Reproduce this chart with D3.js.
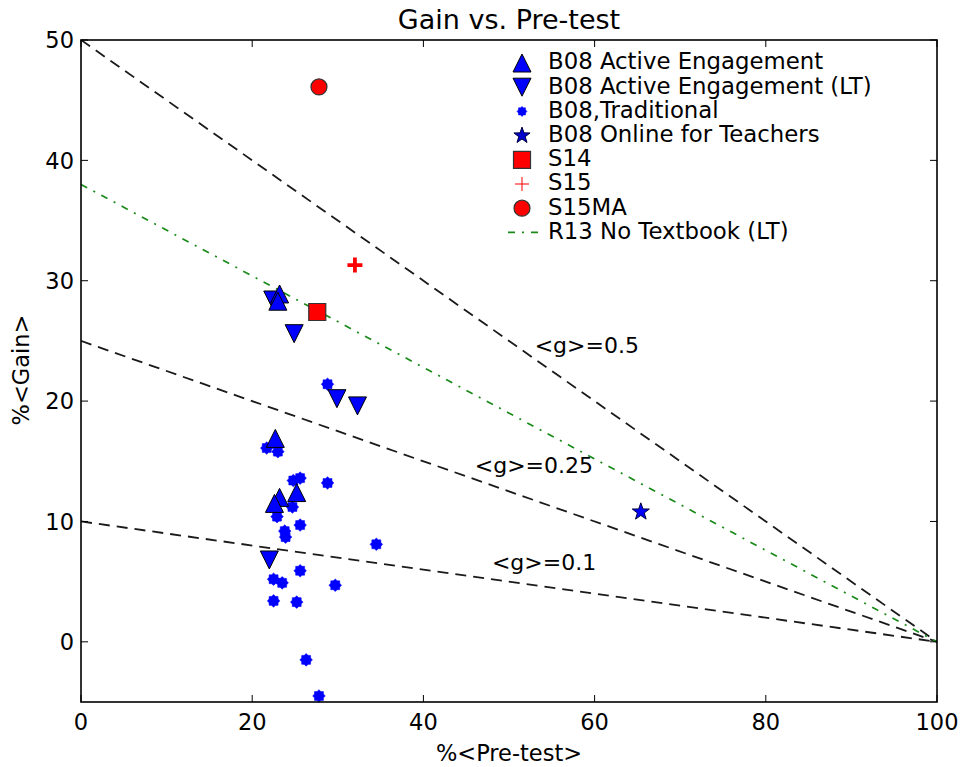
<!DOCTYPE html>
<html>
<head>
<meta charset="utf-8">
<script src="https://cdn.jsdelivr.net/npm/d3@7"></script>
<style>
  html, body { margin: 0; padding: 0; background: #fff; }
  svg { display: block; font-family: "DejaVu Sans", sans-serif; }
</style>
</head>
<body>
<svg id="chart" width="962" height="767"></svg>
<script>
// ---- data ----
const xTicks = [0, 20, 40, 60, 80, 100];
const yTicks = [0, 10, 20, 30, 40, 50];
const activeEngagement = [[23.2, 28.9], [23.0, 28.3], [22.7, 16.9], [25.2, 12.4], [23.2, 12.0], [22.6, 11.5]];
const activeEngagementLT = [[22.4, 28.4], [24.9, 25.6], [29.9, 20.2], [32.3, 19.6], [22.0, 6.8]];
const traditional = [[28.8, 21.4], [21.7, 16.1], [23.0, 15.8], [24.8, 13.4], [25.6, 13.6], [28.8, 13.2],
  [24.7, 11.2], [22.9, 10.4], [25.6, 9.7], [23.8, 9.2], [23.9, 8.7], [34.5, 8.1], [25.6, 5.9],
  [22.5, 5.2], [23.5, 4.9], [29.7, 4.7], [22.5, 3.4], [25.2, 3.3], [26.3, -1.5], [27.8, -4.5]];
const onlineTeachers = [[65.4, 10.8]];
const s14 = [[27.6, 27.4]];
const s15 = [[32.0, 31.3]];
const s15ma = [[27.8, 46.1]];
const gValues = [0.5, 0.25, 0.1];
const gLabels = [{ text: "<g>=0.5", x: 53, y: 24 }, { text: "<g>=0.25", x: 46, y: 14 }, { text: "<g>=0.1", x: 48, y: 6 }];
const r13Gain = 0.38;
const legendItems = ["B08 Active Engagement", "B08 Active Engagement (LT)", "B08,Traditional",
  "B08 Online for Teachers", "S14", "S15", "S15MA", "R13 No Textbook (LT)"];

// ---- layout ----
const L = 81, R = 937, T = 40, B = 702;
const svg = d3.select("#chart");
const x = d3.scaleLinear().domain([0, 100]).range([L, R]);
const y = d3.scaleLinear().domain([-5, 50]).range([B, T]);

// marker path builders
function triUp(s) { return `M0,${-s}L${-s},${s}L${s},${s}Z`; }
function triDown(s) { return `M0,${s}L${-s},${-s}L${s},${-s}Z`; }
function blob(r) {
  const pts = [];
  const n = 16;
  for (let i = 0; i < n; i++) {
    const a = i * Math.PI * 2 / n;
    const rr = i % 2 === 0 ? r : r * 0.78;
    pts.push([rr * Math.cos(a), rr * Math.sin(a)]);
  }
  return "M" + pts.map(p => p.join(",")).join("L") + "Z";
}
function star(r) {
  const pts = [];
  for (let i = 0; i < 10; i++) {
    const a = -Math.PI / 2 + i * Math.PI / 5;
    const rr = i % 2 === 0 ? r : r * 0.4;
    pts.push([rr * Math.cos(a), rr * Math.sin(a)]);
  }
  return "M" + pts.map(p => p.map(v => v.toFixed(2)).join(",")).join("L") + "Z";
}
function square(s) { return `M${-s},${-s}H${s}V${s}H${-s}Z`; }
function plus(s) { return `M${-s},0H${s}M0,${-s}V${s}`; }

svg.append("clipPath").attr("id", "pc").append("rect")
  .attr("x", L).attr("y", T).attr("width", R - L).attr("height", B - T);

const plot = svg.append("g").attr("clip-path", "url(#pc)");

// reference lines
gValues.forEach(g => {
  plot.append("line")
    .attr("x1", x(0)).attr("y1", y(g * 100))
    .attr("x2", x(100)).attr("y2", y(0))
    .attr("stroke", "#1a1a1a").attr("stroke-width", 1.8)
    .attr("stroke-dasharray", "11,7");
});
plot.append("line")
  .attr("x1", x(0)).attr("y1", y(r13Gain * 100))
  .attr("x2", x(100)).attr("y2", y(0))
  .attr("stroke", "#1a8a1a").attr("stroke-width", 1.7)
  .attr("stroke-dasharray", "7,7,2,7");

// labels
svg.selectAll("text.glab").data(gLabels).enter().append("text")
  .attr("class", "glab")
  .attr("x", d => x(d.x)).attr("y", d => y(d.y))
  .attr("font-size", 22).attr("fill", "#000")
  .text(d => d.text);

// markers
const mk = svg.append("g");
function draw(data, pathStr, fill, stroke, sw) {
  mk.selectAll(null).data(data).enter().append("path")
    .attr("transform", d => `translate(${x(d[0])},${y(d[1])})`)
    .attr("d", pathStr)
    .attr("fill", fill).attr("stroke", stroke).attr("stroke-width", sw);
}
draw(traditional, blob(6.3), "#0000ff", "#0000ff", 0.5);
draw(activeEngagementLT, triDown(9), "#0000ff", "#000", 1);
draw(activeEngagement, triUp(9), "#0000ff", "#000", 1);
draw(onlineTeachers, star(9), "#0000ff", "#000040", 1);
draw(s14, square(8.5), "#ff0000", "#333", 1.2);
draw(s15, plus(7.5), "none", "#ff0000", 3.8);
mk.selectAll(null).data(s15ma).enter().append("circle")
  .attr("cx", d => x(d[0])).attr("cy", d => y(d[1])).attr("r", 8)
  .attr("fill", "#ff0000").attr("stroke", "#333").attr("stroke-width", 1.2);

// axes frame
const ax = svg.append("g");
ax.append("rect").attr("x", L).attr("y", T).attr("width", R - L).attr("height", B - T)
  .attr("fill", "none").attr("stroke", "#000").attr("stroke-width", 1.6);

const tl = 7;
xTicks.forEach(t => {
  ax.append("line").attr("x1", x(t)).attr("x2", x(t)).attr("y1", B).attr("y2", B - tl).attr("stroke", "#000").attr("stroke-width", 1);
  ax.append("line").attr("x1", x(t)).attr("x2", x(t)).attr("y1", T).attr("y2", T + tl).attr("stroke", "#000").attr("stroke-width", 1);
});
yTicks.forEach(t => {
  ax.append("line").attr("y1", y(t)).attr("y2", y(t)).attr("x1", L).attr("x2", L + tl).attr("stroke", "#000").attr("stroke-width", 1);
  ax.append("line").attr("y1", y(t)).attr("y2", y(t)).attr("x1", R).attr("x2", R - tl).attr("stroke", "#000").attr("stroke-width", 1);
});
ax.selectAll("text.xt").data(xTicks).enter().append("text")
  .attr("x", d => x(d)).attr("y", 730).attr("text-anchor", "middle")
  .attr("font-size", 22.5).text(d => d);
ax.selectAll("text.yt").data(yTicks).enter().append("text")
  .attr("x", 74).attr("y", d => y(d) + 8.3).attr("text-anchor", "end")
  .attr("font-size", 22.5).text(d => d);

// titles
svg.append("text").attr("x", (L + R) / 2).attr("y", 29).attr("text-anchor", "middle")
  .attr("font-size", 27).text("Gain vs. Pre-test");
svg.append("text").attr("x", (L + R) / 2).attr("y", 761).attr("text-anchor", "middle")
  .attr("font-size", 22.5).text("%<Pre-test>");
svg.append("text").attr("transform", "translate(29,370) rotate(-90)").attr("text-anchor", "middle")
  .attr("font-size", 22.5).text("%<Gain>");

// legend
const rowY = i => 61 + i * 24.2;
const lg = svg.append("g");
lg.selectAll("text").data(legendItems).enter().append("text")
  .attr("x", 548).attr("y", (d, i) => rowY(i) + 8.3)
  .attr("font-size", 22.8).text(d => d);
const mx = 522;
const legendMarkers = [
  { d: triUp(9), fill: "#0000ff", stroke: "#000", sw: 1 },
  { d: triDown(9), fill: "#0000ff", stroke: "#000", sw: 1 },
  { d: blob(5), fill: "#0000ff", stroke: "#0000ff", sw: 0.5 },
  { d: star(8.5), fill: "#0000cc", stroke: "#000040", sw: 1 },
  { d: square(8.5), fill: "#ff0000", stroke: "#333", sw: 1.2 },
  { d: plus(7), fill: "none", stroke: "#ff0000", sw: 1 }
];
legendMarkers.forEach((m, i) => {
  lg.append("path").attr("transform", `translate(${mx},${rowY(i) + 2})`)
    .attr("d", m.d).attr("fill", m.fill).attr("stroke", m.stroke).attr("stroke-width", m.sw);
});
lg.append("circle").attr("cx", mx).attr("cy", rowY(6) + 2).attr("r", 8)
  .attr("fill", "#ff0000").attr("stroke", "#333").attr("stroke-width", 1.2);
lg.append("line").attr("x1", 508).attr("x2", 545).attr("y1", rowY(7) + 2).attr("y2", rowY(7) + 2)
  .attr("stroke", "#1a8a1a").attr("stroke-width", 1.7).attr("stroke-dasharray", "7,7,2,7");
</script>
</body>
</html>
